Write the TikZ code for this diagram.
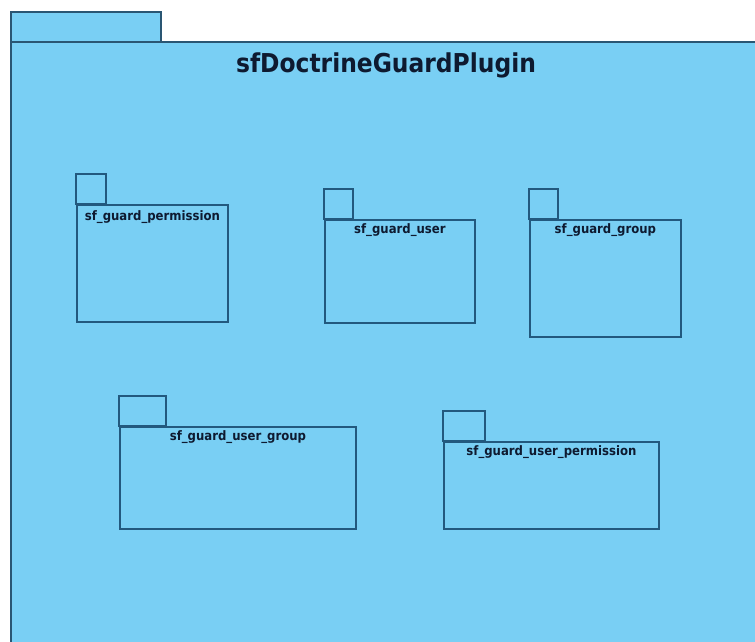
\documentclass[tikz,border=0pt]{standalone}
\usepackage{fontspec}
\usetikzlibrary{positioning}
\newfontfamily\pkgfont{DejaVuSansCondensed-Bold}[Extension=.ttf]
\definecolor{pkgfill}{HTML}{79CFF4}
\definecolor{pkgline}{HTML}{2A5673}
\definecolor{innerline}{HTML}{22597E}
\definecolor{pkgtext}{HTML}{0E1A30}

\tikzset{
  pkgbox/.style={draw=innerline,fill=pkgfill,line width=1.8pt,inner sep=0pt,anchor=north west},
  pkgtab/.style={draw=innerline,fill=pkgfill,line width=1.8pt},
  pkgname/.style={anchor=north,inner sep=0pt,text=pkgtext,font=\pkgfont\fontsize{13}{15}\selectfont}
}

\begin{document}
\begin{tikzpicture}[x=1pt,y=-1pt]

% Background
\useasboundingbox (0,0) rectangle (755,642);
\fill[white] (0,0) rectangle (755,642);

% ===== OUTER PACKAGE =====
\filldraw[fill=pkgfill,draw=pkgline,line width=2pt] (11,12) rectangle (161,42);
\filldraw[fill=pkgfill,draw=pkgline,line width=2pt] (11,42) rectangle (770,660);
\node[anchor=base,inner sep=0pt,text=pkgtext] (plugin) at (386,73)
  {\pkgfont\fontsize{26}{30}\selectfont sfDoctrineGuardPlugin};

% ===== TOP ROW =====
% sf_guard_permission
\draw[pkgtab] (76,174) rectangle (106,204);
\node[pkgbox,minimum width=151pt,minimum height=117pt] (perm) at (76,204) {};
\node[pkgname] (permname) at ([yshift=-6pt]perm.north) {sf\_guard\_permission};

% sf_guard_user
\draw[pkgtab] (324,189) rectangle (353,219);
\node[pkgbox,minimum width=150pt,minimum height=103pt] (user) at (324,219) {};
\node[pkgname] (username) at ([yshift=-4pt]user.north) {sf\_guard\_user};

% sf_guard_group
\draw[pkgtab] (529,189) rectangle (558,219);
\node[pkgbox,minimum width=151pt,minimum height=117pt] (group) at (529,219) {};
\node[pkgname] (groupname) at ([yshift=-4pt]group.north) {sf\_guard\_group};

% ===== BOTTOM ROW =====
% sf_guard_user_group
\draw[pkgtab] (119,396) rectangle (166,426);
\node[pkgbox,minimum width=236pt,minimum height=102pt] (usergroup) at (119,426) {};
\node[pkgname] (usergroupname) at ([yshift=-4pt]usergroup.north) {sf\_guard\_user\_group};

% sf_guard_user_permission
\draw[pkgtab] (443,411) rectangle (485,441);
\node[pkgbox,minimum width=215pt,minimum height=87pt] (userperm) at (443,441) {};
\node[pkgname] (userpermname) at ([yshift=-4pt]userperm.north) {sf\_guard\_user\_permission};

\end{tikzpicture}
\end{document}
